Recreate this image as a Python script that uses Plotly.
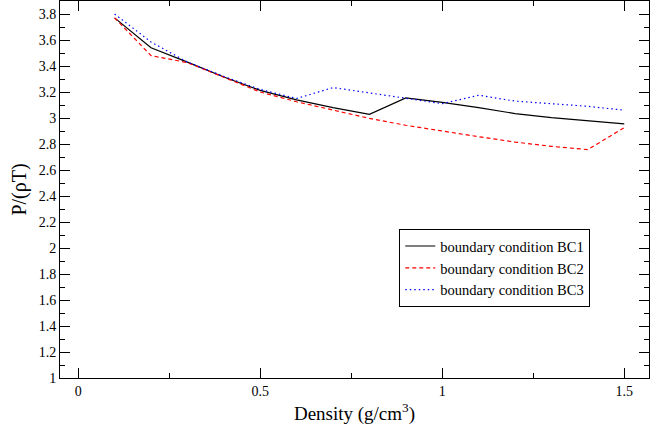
import plotly.graph_objects as go

density = [0.1, 0.2, 0.3, 0.4, 0.5, 0.6, 0.7, 0.8, 0.9, 1.0, 1.1, 1.2, 1.3, 1.4, 1.5]
bc1 = [3.77, 3.54, 3.43, 3.315, 3.213, 3.14, 3.08, 3.028, 3.154, 3.12, 3.08, 3.034, 3.003, 2.98, 2.955]
bc2 = [3.77, 3.48, 3.426, 3.315, 3.20, 3.125, 3.06, 2.997, 2.944, 2.898, 2.856, 2.815, 2.782, 2.757, 2.926]
bc3 = [3.80, 3.585, 3.43, 3.32, 3.22, 3.15, 3.234, 3.195, 3.152, 3.11, 3.175, 3.13, 3.11, 3.09, 3.06]
names = ["boundary condition BC1", "boundary condition BC2", "boundary condition BC3"]

FONT = "Liberation Serif, Times New Roman, serif"

fig = go.Figure()
fig.add_trace(go.Scatter(x=density, y=bc1, mode="lines", name=names[0],
                         line=dict(color="black", width=1.2)))
fig.add_trace(go.Scatter(x=density, y=bc2, mode="lines", name=names[1],
                         line=dict(color="red", width=1.2, dash="4px,3px")))
fig.add_trace(go.Scatter(x=density, y=bc3, mode="lines", name=names[2],
                         line=dict(color="blue", width=1.2, dash="1.5px,3px")))

axis_common = dict(
    showgrid=False, zeroline=False, showline=True, linecolor="black", linewidth=1,
    mirror="allticks", ticks="inside", ticklen=10, tickwidth=1, tickcolor="black",
    tickfont=dict(family=FONT, size=14, color="black"),
)

fig.update_xaxes(
    range=[-0.05, 1.568], tickmode="array", tickvals=[0, 0.5, 1, 1.5],
    ticktext=["0", "0.5", "1", "1.5"],
    minor=dict(dtick=0.25, tick0=0, ticks="inside", ticklen=5, tickcolor="black", showgrid=False),
    title=dict(text="Density (g/cm<sup>3</sup>)", font=dict(family=FONT, size=19, color="black"), standoff=8),
    **axis_common,
)
yticks = [1 + 0.2 * i for i in range(15)]
fig.update_yaxes(
    range=[1, 3.9], tickmode="array", tickvals=yticks,
    ticktext=[f"{v:g}" for v in [round(t, 1) for t in yticks]],
    minor=dict(dtick=0.1, tick0=1, ticks="inside", ticklen=5, tickcolor="black", showgrid=False),
    title=dict(text="P/(ρT)", font=dict(family=FONT, size=20, color="black"), standoff=6),
    **axis_common,
)

fig.update_layout(
    width=655, height=429,
    margin=dict(l=60, r=6, t=1, b=51),
    plot_bgcolor="white", paper_bgcolor="white",
    font=dict(family=FONT, color="black"),
    legend=dict(x=0.576, y=0.395, xanchor="left", yanchor="top",
                bordercolor="black", borderwidth=1, bgcolor="white",
                font=dict(family=FONT, size=14.5, color="black"),
                tracegroupgap=0),
    showlegend=True,
)

fig.write_html("out.html", config={"displayModeBar": False},
               post_script="document.body.style.margin='0px';")
